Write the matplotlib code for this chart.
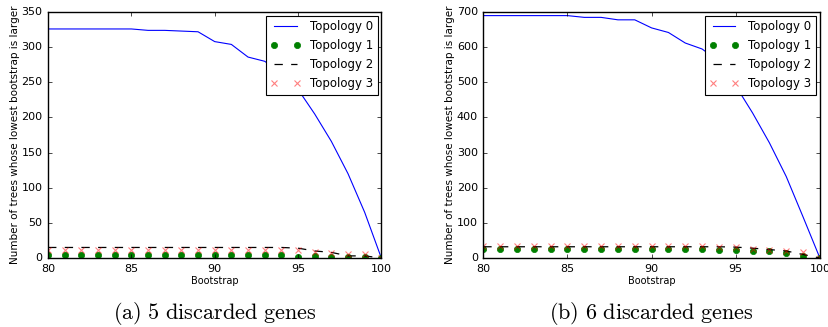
import matplotlib
matplotlib.use("Agg")
import matplotlib.pyplot as plt
import numpy as np

plt.style.use("classic")
plt.rcParams["mathtext.fontset"] = "cm"

bootstrap = list(range(80, 101))

# 5 discarded genes
a_topo0 = [326, 326, 326, 326, 326, 326, 324, 324, 323, 322, 308, 304, 286, 280, 263, 240, 205, 166, 120, 65, 0]
a_topo1 = [4, 4, 4, 4, 4, 4, 4, 4, 4, 4, 4, 4, 4, 4, 4, 2, 3, 2, 1, 1, 0]
a_topo2 = [15, 15, 15, 15, 15, 15, 15, 15, 15, 15, 15, 15, 15, 15, 15, 14, 10, 8, 3, 3, 0]
a_topo3 = [12, 12, 12, 12, 12, 12, 12, 12, 12, 12, 12, 12, 12, 12, 12, 11, 8, 7, 5, 5, 0]

# 6 discarded genes
b_topo0 = [690, 690, 690, 690, 690, 690, 685, 685, 678, 678, 655, 642, 612, 595, 560, 490, 413, 328, 232, 117, 0]
b_topo1 = [25, 25, 25, 25, 25, 25, 25, 25, 25, 25, 25, 25, 25, 25, 22, 22, 19, 19, 15, 7, 0]
b_topo2 = [32, 32, 32, 32, 32, 32, 32, 32, 32, 32, 32, 32, 32, 32, 32, 31, 28, 24, 20, 10, 0]
b_topo3 = [35, 35, 35, 35, 35, 35, 35, 35, 35, 35, 35, 35, 34, 34, 32, 31, 27, 24, 20, 16, 0]

captions = ["(a) 5 discarded genes", "(b) 6 discarded genes"]
ylims = [350, 700]

fig = plt.figure(figsize=(8.29, 3.27), dpi=100, facecolor="white")
axes = [fig.add_axes([0.058, 0.211, 0.402, 0.752]),
        fig.add_axes([0.583, 0.211, 0.406, 0.752])]

series = [(a_topo0, a_topo1, a_topo2, a_topo3), (b_topo0, b_topo1, b_topo2, b_topo3)]

for ax, (t0, t1, t2, t3), cap, ymax in zip(axes, series, captions, ylims):
    ax.plot(bootstrap, t0, "b-", lw=0.8, label="Topology 0")
    ax.plot(bootstrap, t1, "go", ms=4.5, mec="g", label="Topology 1")
    ax.plot(bootstrap, t2, "k--", lw=0.9, label="Topology 2")
    ax.plot(bootstrap, t3, "rx", ms=4.5, mew=0.8, alpha=0.5, label="Topology 3")
    ax.set_xlim(80, 100)
    ax.set_ylim(0, ymax)
    ax.tick_params(labelsize=8, length=3)
    ax.set_xlabel("Bootstrap", fontsize=7, labelpad=2)
    ax.set_ylabel("Number of trees whose lowest bootstrap is larger", fontsize=7.5, labelpad=1)
    leg = ax.legend(loc="upper right", fontsize=8.5, numpoints=2, fancybox=False,
                    borderaxespad=0.3, handlelength=2.5)
    leg.get_frame().set_linewidth(0.8)
    txt = cap.replace(" ", r"\ ")
    ax.text(0.5, -0.225, r"$\mathrm{" + txt + "}$", transform=ax.transAxes,
            ha="center", va="center", fontsize=16)

fig.savefig("out.png", dpi=100, facecolor="white")
